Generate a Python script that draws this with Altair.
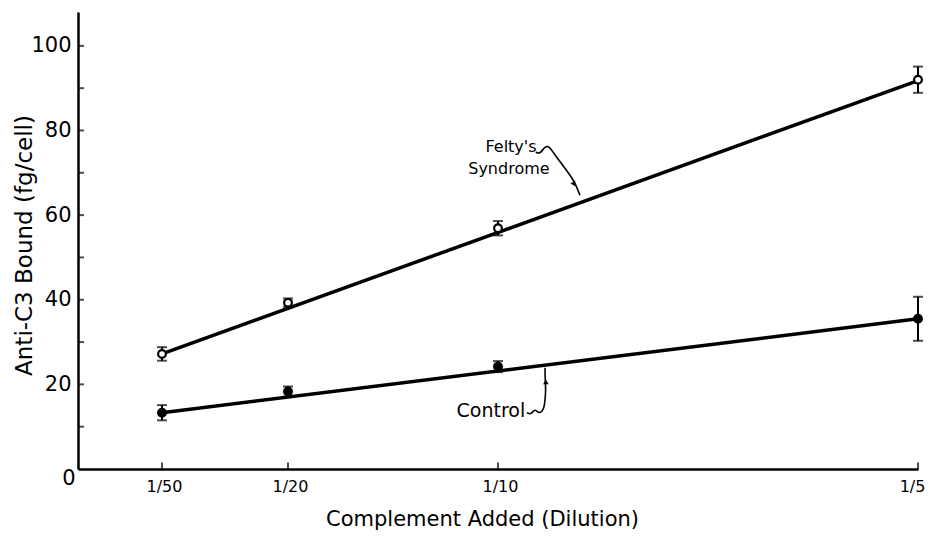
import altair as alt
import pandas as pd

# ---- data ----
dilution_x = [1/50, 1/20, 1/10, 1/5]
dilution_labels = ["1/50", "1/20", "1/10", "1/5"]

felty_y = [27.2, 39.3, 56.9, 92.0]
felty_err = [1.6, 1.0, 1.7, 3.1]
control_y = [13.3, 18.3, 24.2, 35.5]
control_err = [1.8, 1.2, 1.3, 5.2]

fit_x = [1/50, 1/5]
felty_fit = [27.2, 91.8]
control_fit = [13.3, 35.5]

y_tick_values = [10, 20, 30, 40, 50, 60, 70, 80, 90, 100]
y_label_values = [20, 40, 60, 80, 100]

# annotation text (data coordinates)
ann_text = ["Felty's", "Syndrome", "Control"]
ann_x = [0.1031, 0.1026, 0.0983]
ann_y = [76.0, 70.8, 13.6]
ann_size = [16, 16, 19]

# squiggle arrows (data coordinates)
felty_arrow_x = [0.1090, 0.1100, 0.1112, 0.1121, 0.1131, 0.1150, 0.1167, 0.1183, 0.1195]
felty_arrow_y = [74.9, 74.4, 76.3, 76.3, 74.9, 72.3, 70.1, 67.8, 64.7]
control_arrow_x = [0.1069, 0.1079, 0.1088, 0.1098, 0.1110, 0.1112, 0.1114, 0.1112, 0.1112]
control_arrow_y = [13.3, 12.8, 14.4, 12.9, 14.2, 16.4, 18.7, 21.6, 23.9]
arrowhead_x = [0.1181, 0.1114]
arrowhead_y = [67.3, 20.6]
arrowhead_shape = ["triangle-down", "triangle-up"]
arrowhead_angle = [330, 0]

FONT = "DejaVu Sans"

# ---- tables ----
pts = pd.DataFrame({
    "x": dilution_x * 2,
    "y": felty_y + control_y,
    "err": felty_err + control_err,
    "series": ["Felty"] * 4 + ["Control"] * 4,
})
pts["lo"] = pts["y"] - pts["err"]
pts["hi"] = pts["y"] + pts["err"]
caps = pd.DataFrame({
    "x": list(pts["x"]) * 2,
    "y": list(pts["lo"]) + list(pts["hi"]),
})
fit = pd.DataFrame({
    "x": fit_x * 2,
    "y": felty_fit + control_fit,
    "series": ["Felty"] * 2 + ["Control"] * 2,
})
ann = pd.DataFrame({"t": ann_text, "x": ann_x, "y": ann_y, "s": ann_size})
arrows = pd.DataFrame({
    "x": felty_arrow_x + control_arrow_x,
    "y": felty_arrow_y + control_arrow_y,
    "id": ["f"] * len(felty_arrow_x) + ["c"] * len(control_arrow_x),
    "o": list(range(len(felty_arrow_x))) + list(range(len(control_arrow_x))),
})
heads = pd.DataFrame({"x": arrowhead_x, "y": arrowhead_y,
                      "shape": arrowhead_shape, "angle": arrowhead_angle})
yticks = pd.DataFrame({"x": [0] * len(y_tick_values), "y": y_tick_values})
xticks = pd.DataFrame({"x": dilution_x, "y": [0] * len(dilution_x)})
origin = pd.DataFrame({"x": [0], "y": [0], "t": ["0"]})

label_expr = " : ".join(
    [f"abs(datum.value - {v}) < 1e-6 ? '{l}'" for v, l in zip(dilution_x, dilution_labels)]
) + " : ''"

xscale = alt.Scale(domain=[0, 0.2], nice=False, zero=False)
yscale = alt.Scale(domain=[0, 108], nice=False)

X = alt.X("x:Q", scale=xscale, axis=alt.Axis(
    values=dilution_x, labelExpr=label_expr, ticks=False, grid=False,
    domainColor="black", domainWidth=2.5, labelFont=FONT, labelFontSize=16,
    labelColor="black", labelPadding=9, labelFlush=False, labelOverlap=False,
    labelBound=False,
    labelOffset={"condition": {"test": "datum.value > 0.15", "value": -6}, "value": 2},
    title="Complement Added (Dilution)", titleFont=FONT, titleFontSize=21,
    titleFontWeight="normal", titleColor="black", titleX=404, titleY=50,
    titleAlign="center", titleBaseline="middle"))
Y = alt.Y("y:Q", scale=yscale, axis=alt.Axis(
    values=y_label_values, ticks=False, grid=False,
    domainColor="black", domainWidth=2.5, labelFont=FONT, labelFontSize=21,
    labelColor="black", labelPadding=7,
    title="Anti-C3 Bound (fg/cell)", titleFont=FONT, titleFontSize=23,
    titleFontWeight="normal", titleColor="black", titleX=-54, titleY=233,
    titleAngle=-90, titleAlign="center", titleBaseline="middle"))

lines = alt.Chart(fit).mark_line(color="black", strokeWidth=3.5).encode(
    x=X, y=Y, detail="series:N")
rules = alt.Chart(pts).mark_rule(color="black", strokeWidth=2).encode(
    x=alt.X("x:Q", scale=xscale), y=alt.Y("lo:Q", scale=yscale), y2="hi:Q")
capm = alt.Chart(caps).mark_tick(orient="horizontal", color="black", size=10, thickness=2).encode(
    x=alt.X("x:Q", scale=xscale), y=alt.Y("y:Q", scale=yscale))
points = alt.Chart(pts).mark_point(shape="circle", size=60, strokeWidth=2.2, stroke="black",
                                   opacity=1, filled=False).encode(
    x=alt.X("x:Q", scale=xscale), y=alt.Y("y:Q", scale=yscale),
    fill=alt.Fill("series:N", scale=alt.Scale(domain=["Felty", "Control"], range=["white", "black"]),
                  legend=None))
ytickm = alt.Chart(yticks).mark_tick(orient="horizontal", color="black", size=6, thickness=2,
                                     xOffset=3).encode(
    x=alt.X("x:Q", scale=xscale), y=alt.Y("y:Q", scale=yscale))
xtickm = alt.Chart(xticks).mark_tick(orient="vertical", color="black", size=7, thickness=2,
                                     yOffset=-3).encode(
    x=alt.X("x:Q", scale=xscale), y=alt.Y("y:Q", scale=yscale))
origin_t = alt.Chart(origin).mark_text(font=FONT, fontSize=21, color="black", dx=-9, dy=10,
                                       align="center", baseline="middle").encode(
    x=alt.X("x:Q", scale=xscale), y=alt.Y("y:Q", scale=yscale), text="t:N")
ann_t = alt.Chart(ann).mark_text(font=FONT, color="black", align="center",
                                 baseline="middle").encode(
    x=alt.X("x:Q", scale=xscale), y=alt.Y("y:Q", scale=yscale), text="t:N",
    size=alt.Size("s:Q", scale=None))
arrow_l = alt.Chart(arrows).mark_line(color="black", strokeWidth=1.6, interpolate="basis").encode(
    x=alt.X("x:Q", scale=xscale), y=alt.Y("y:Q", scale=yscale), detail="id:N", order="o:Q")
head_m = alt.Chart(heads).mark_point(filled=True, color="black", size=30, opacity=1).encode(
    x=alt.X("x:Q", scale=xscale), y=alt.Y("y:Q", scale=yscale),
    shape=alt.Shape("shape:N", scale=None), angle=alt.Angle("angle:Q", scale=None))

chart = alt.layer(lines, rules, capm, points, ytickm, xtickm, origin_t, ann_t, arrow_l, head_m).properties(
    width=840, height=457,
    autosize=alt.AutoSizeParams(type="none"),
    padding={"left": 70, "top": 4, "right": 8, "bottom": 61},
    background="white",
).configure_view(stroke=None)

chart.save("out.html", embed_options={"renderer": "svg", "actions": False})
